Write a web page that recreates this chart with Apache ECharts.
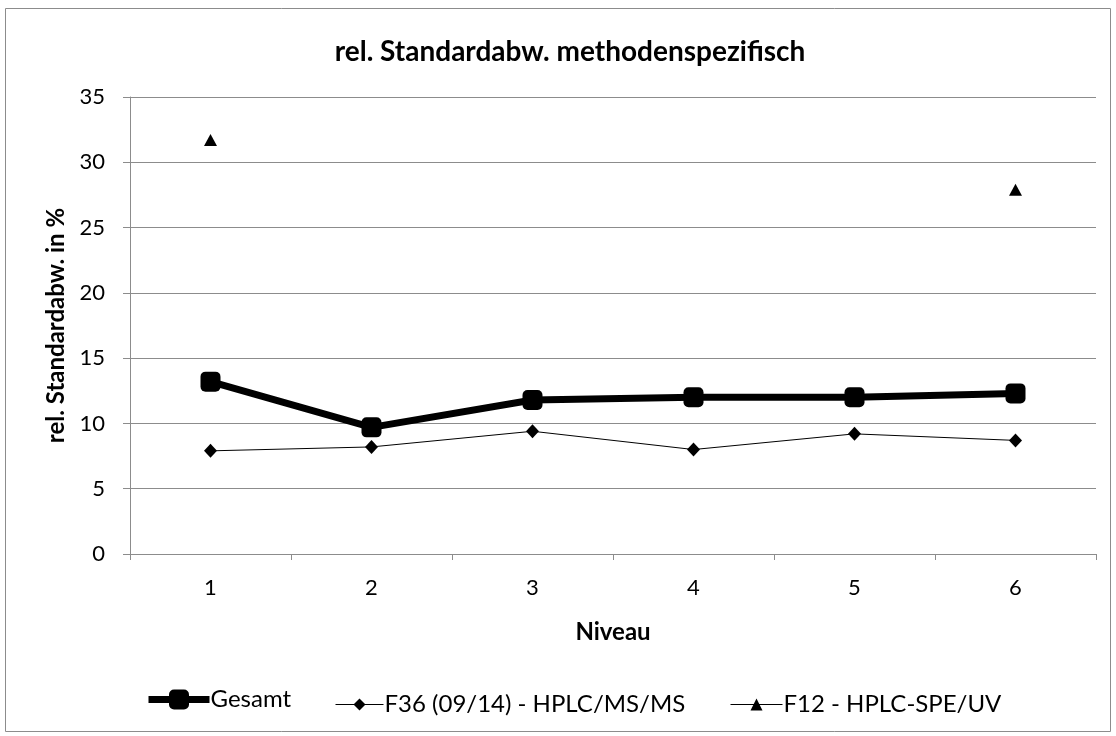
<!DOCTYPE html>
<html><head><meta charset="utf-8">
<script src="https://cdn.jsdelivr.net/npm/echarts@6/dist/echarts.min.js"></script>
<style>html,body{margin:0;padding:0;background:#fff}#c{width:1116px;height:736px}</style>
</head><body><div id="c"></div>
<script>
const categories = ['1','2','3','4','5','6'];
const gesamt = [13.2, 9.7, 11.8, 12.0, 12.0, 12.3];
const f36 = [7.9, 8.2, 9.4, 8.0, 9.2, 8.7];
const f12 = [31.7, null, null, null, null, 27.9];
const seriesNames = ['Gesamt', 'F36 (09/14) - HPLC/MS/MS', 'F12 - HPLC-SPE/UV'];
const FONT = 'Lato, "Open Sans", sans-serif';
const FS = 22;

const legendText = {fontFamily:FONT, fontSize:24, color:'#000', padding:[0,0,0,-4]};
const chart = echarts.init(document.getElementById('c'), null, {renderer:'canvas'});
chart.setOption({
  animation:false,
  backgroundColor:'#fff',
  graphic:[{type:'rect', shape:{x:5.5,y:8.5,width:1105,height:723}, style:{fill:'none', stroke:'#8c8c8c', lineWidth:1}, z:-1}],
  title:{text:'rel. Standardabw. methodenspezifisch', left:565, textAlign:'center', top:33,
    textStyle:{fontFamily:FONT, fontSize:28, fontWeight:'bold', color:'#000'}},
  grid:{left:130, right:20, top:97, bottom:182, containLabel:false},
  legend:[
    {left:145, top:687.5, padding:0, itemWidth:61, itemHeight:25, lineStyle:{width:7},
      textStyle:legendText, data:[seriesNames[0]]},
    {left:335, top:692.5, padding:0, itemWidth:48, itemHeight:15, lineStyle:{width:1},
      textStyle:legendText, data:[seriesNames[1]]},
    {left:730, top:692.5, padding:0, itemWidth:52, itemHeight:15, lineStyle:{width:1},
      textStyle:legendText, data:[seriesNames[2]]}
  ],
  xAxis:{type:'category', data:categories, boundaryGap:true,
    name:'Niveau', nameLocation:'middle', nameGap:66,
    nameTextStyle:{fontFamily:FONT, fontSize:24, fontWeight:'bold', color:'#000'},
    axisLine:{lineStyle:{color:'#8c8c8c', width:1}},
    axisTick:{show:true, length:6, inside:false, lineStyle:{color:'#8c8c8c'}},
    axisLabel:{fontFamily:FONT, fontSize:FS, color:'#000', margin:23}},
  yAxis:{type:'value', min:0, max:35, interval:5,
    name:'rel. Standardabw. in %', nameLocation:'middle', nameGap:60, nameRotate:90,
    nameTextStyle:{fontFamily:FONT, fontSize:24, fontWeight:'bold', color:'#000'},
    axisLine:{show:true, lineStyle:{color:'#8c8c8c', width:1}},
    axisTick:{show:true, length:7, lineStyle:{color:'#8c8c8c'}},
    splitLine:{lineStyle:{color:'#8c8c8c', width:1}},
    axisLabel:{fontFamily:FONT, fontSize:FS, color:'#000', margin:25}},
  series:[
    {name:seriesNames[0], type:'line', data:gesamt, symbol:'roundRect', symbolSize:20,
      lineStyle:{color:'#000', width:7}, itemStyle:{color:'#000'}, z:3},
    {name:seriesNames[1], type:'line', data:f36, symbol:'diamond', symbolSize:[13,14],
      lineStyle:{color:'#000', width:1}, itemStyle:{color:'#000'}, z:2},
    {name:seriesNames[2], type:'line', data:f12, symbol:'triangle', symbolSize:[13,12],
      connectNulls:false,
      lineStyle:{color:'#000', width:1}, itemStyle:{color:'#000'}, z:2}
  ]
});
</script></body></html>
